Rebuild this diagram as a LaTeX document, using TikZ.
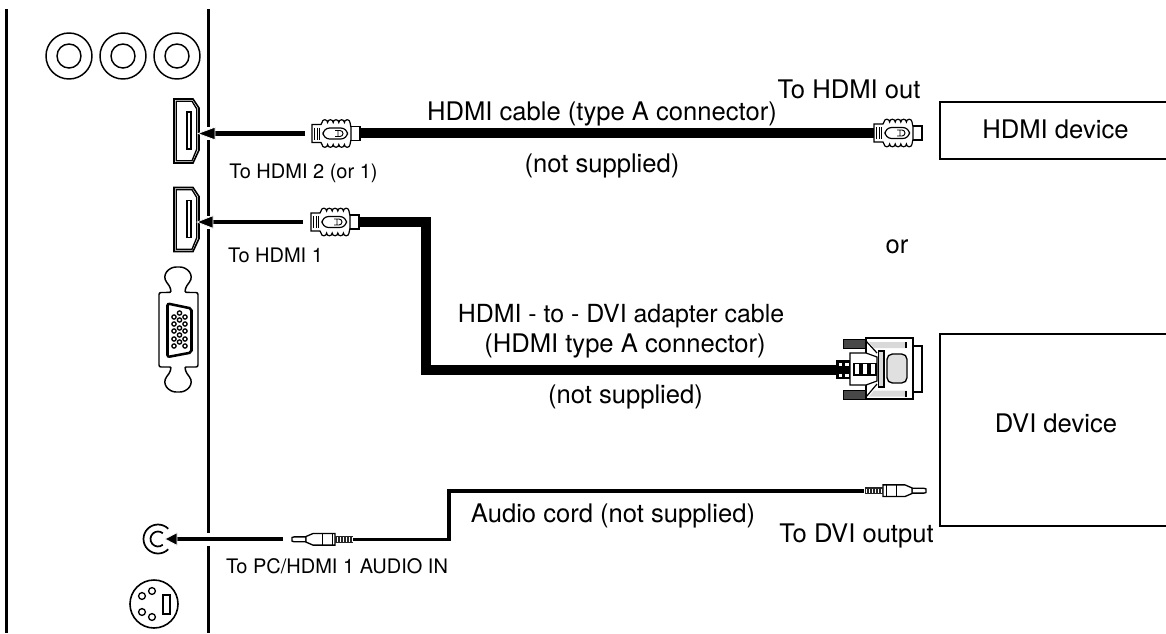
\documentclass[tikz,border=0pt]{standalone}
\usepackage{fontspec}
\setmainfont{TeX Gyre Heros}
\usetikzlibrary{calc}
\newcommand{\bigfont}{\fontsize{19.2}{22}\selectfont}
\newcommand{\adaptfont}{\fontsize{18.7}{22}\selectfont}
\newcommand{\smallfont}{\fontsize{15}{18}\selectfont}
\tikzset{
  rail/.style={line width=2.6pt},
  thin part/.style={line width=0.9pt},
  big label/.style={font=\bigfont,inner sep=0pt,text=black,anchor=base},
  small label/.style={font=\smallfont,inner sep=0pt,text=black,anchor=base},
  box edge/.style={line width=2.2pt},
  pics/hdmiport/.style={code={
    \draw[line width=1.2pt] (0,0) -- (19,0) -- (25,9) -- (25,51) -- (19,64) -- (0,64) -- cycle;
    \draw[line width=1pt] (2.2,2.2) -- (18,2.2) -- (22.8,10) -- (22.8,50) -- (18,61.8) -- (2.2,61.8) -- cycle;
    \draw[line width=0.9pt] (13,13) rectangle (17,50);
  }},
  pics/hdmiplug/.style={code={
    \draw[thin part,fill=white] (38,-7) rectangle (48,7);
    \draw[thin part,fill=white] (0,-9) -- (9,-9) -- (10,-11)
      arc[start angle=180,end angle=360,radius=2.8]
      arc[start angle=180,end angle=360,radius=2.8]
      arc[start angle=180,end angle=360,radius=2.8]
      arc[start angle=180,end angle=360,radius=2.8]
      arc[start angle=180,end angle=360,radius=2.8]
      -- (39,-6) -- (39,6) -- (38,11)
      arc[start angle=0,end angle=180,radius=2.8]
      arc[start angle=0,end angle=180,radius=2.8]
      arc[start angle=0,end angle=180,radius=2.8]
      arc[start angle=0,end angle=180,radius=2.8]
      arc[start angle=0,end angle=180,radius=2.8]
      -- (9,9) -- (0,9) -- cycle;
    \foreach \a in {2.5,5,7.5}{ \draw[line width=0.7pt] (\a,-6) -- (\a,6); }
    \draw[thin part,rounded corners=5pt,fill=white] (11,-5.5) rectangle (35.5,5.5);
    \draw[line width=0.7pt] (26,-3) -- (26,3) (23,-3) -- (28,-3) arc[start angle=-90,end angle=90,radius=3] -- (23,3);
  }},
  pics/minijack/.style={code={
    \draw[line width=1pt,fill=white] (0,-1.8) -- (2,-2.4) -- (14,-2.4) -- (14,2.4) -- (2,2.4) -- (0,1.8) -- cycle;
    \draw[line width=1pt,fill=white] (14,-2.8) -- (21,-5.8) -- (43,-5.8) -- (43,5.8) -- (21,5.8) -- (14,2.8) -- cycle;
    \draw[line width=0.7pt] (30,-5.8) -- (30,5.8) (40,-5.8) -- (40,5.8);
    \fill[black!85] (43,-3.4) rectangle (61,3.4);
    \foreach \k in {45,48,...,60}{ \draw[white,line width=0.4pt] (\k,-2.2) -- (\k,2.2); }
  }},
}
\begin{document}
\begin{tikzpicture}[x=0.75pt,y=-0.75pt]
\useasboundingbox (0,0) rectangle (1166,633);
\coordinate (railLtop) at (6.7,9);
\coordinate (railLbot) at (6.7,633);
\coordinate (railRtop) at (208.5,9);
\coordinate (railRbot) at (208.5,633);
\draw[rail] (railLtop) -- (railLbot);
\draw[rail] (railRtop) -- (railRbot);
% RCA jacks
\foreach \c in {69,123,177}{
  \draw[line width=1.1pt] (\c,56) circle[radius=23];
  \draw[line width=1.1pt] (\c,56) circle[radius=12];
}
% HDMI ports
\pic at (174,99) {hdmiport};
\pic at (174,187.5) {hdmiport};
% VGA
\draw[line width=1.1pt,rounded corners=1.5pt] (159,292.5) -- (168,292.5)
   .. controls (172,292) and (170,287) .. (168,284)
   .. controls (161,275) and (169,267) .. (178,267)
   .. controls (187,267) and (195,275) .. (188,284)
   .. controls (186,287) and (184,292) .. (188,292.5)
   -- (198,292.5) -- (198,367) -- (188,367)
   .. controls (184,367) and (186,372) .. (188,375)
   .. controls (195,384) and (187,392) .. (178,392)
   .. controls (169,392) and (161,384) .. (168,375)
   .. controls (170,372) and (172,367) .. (168,367)
   -- (159,367) -- cycle;
\draw[line width=1.9pt,rounded corners=1.5pt] (167.5,303.5) -- (191.5,308.5) -- (191.5,352.5) -- (167.5,357) -- cycle;
\foreach \x/\y in {174/317,174/324,174/331,174/339,174/346,
                   179.5/313,179.5/320,179.5/328,179.5/335,179.5/342,
                   185/317,185/324,185/331,185/339,185/346}{
  \draw[line width=1pt] (\x,\y) circle[radius=2.1];
}
% stereo jack port
\draw[line width=1.3pt] (158,539) ++(45:14.5) arc[start angle=45,end angle=315,radius=14.5];
\draw[line width=1.3pt] (158,539) ++(50:7.5) arc[start angle=50,end angle=310,radius=7.5];
% mini din
\draw[line width=1.2pt] (154,604) circle[radius=24];
\draw[line width=1pt] (142,596) circle[radius=3.4] (152,591) circle[radius=3.4] (142,612) circle[radius=3.4] (152,617) circle[radius=3.4];
\draw[line width=1.1pt] (163,595) rectangle (170,614);
% cables
\coordinate (cableAstart) at (359,133);
\coordinate (cableAend) at (876,133);
\draw[line width=7.5pt] (cableAstart) -- (cableAend);
\coordinate (cableBstart) at (358,222);
\coordinate (cableBbend1) at (426,222);
\coordinate (cableBbend2) at (426,370);
\coordinate (cableBend) at (838,370);
\draw[line width=7.5pt,line join=miter] (cableBstart) -- (cableBbend1) -- (cableBbend2) -- (cableBend);
\pic at (312,133.5) {hdmiplug};
\pic at (874,133) {hdmiplug};
\pic at (311,222) {hdmiplug};
% arrows
\coordinate (arrAfrom) at (305,133.5);
\coordinate (arrAto) at (198,133.5);
\coordinate (arrBfrom) at (303,222);
\coordinate (arrBto) at (197,222);
\coordinate (arrCfrom) at (283,539);
\coordinate (arrCto) at (165,539);
\foreach \f/\t/\l in {arrAfrom/arrAto/17,arrBfrom/arrBto/16,arrCfrom/arrCto/12}{
  \fill[white] ($(\t -| railRtop)+(-3,-6.5)$) rectangle ($(\t -| railRtop)+(3,6.5)$);
  \draw[line width=3.5pt] (\f) -- ($(\t)+(\l-2,0)$);
  \filldraw[draw=white,line width=0.5pt,fill=black] (\t) -- ($(\t)+(\l,-6.3)$) -- ($(\t)+(\l,6.3)$) -- cycle;
}
% audio cord
\coordinate (audL) at (352,539.3);
\coordinate (audB1) at (449,539.3);
\coordinate (audB2) at (449,491);
\coordinate (audR) at (864,491);
\draw[line width=2.5pt,line join=miter] (audL) -- (audB1) -- (audB2) -- (audR);
\pic at (292,539.3) {minijack};
\pic[transform shape,xscale=-1] at (926,490.7) {minijack};
% DVI connector
\fill[black!72,draw=black,line width=0.7pt] (843,339) rectangle (866,348);
\fill[black!72,draw=black,line width=0.7pt] (843,390) rectangle (866,399);
\draw[thin part,fill=white] (913,346) rectangle (922,392);
\draw[line width=1.1pt,fill=white] (866,338) rectangle (913,399);
\fill[black!15] (869,342) -- (906,342) -- (906,348) -- (874,348) -- cycle;
\fill[black!15] (869,396.5) -- (906,396.5) -- (906,390.5) -- (874,390.5) -- cycle;
\draw[line width=0.8pt] (906,342) -- (906,348) (906,390.5) -- (906,396.5);
\draw[thin part] (866,341) -- (877,353) (866,397) -- (877,384);
\draw[thin part,fill=white] (850,353) -- (866,353) -- (877,357) -- (877,381) -- (866,385) -- (850,385) -- cycle;
\draw[line width=0.8pt,fill=black!15] (878.5,351) rectangle (884,387);
\draw[line width=1pt,rounded corners=4pt,fill=black!12] (887,354) rectangle (907,383);
\draw[line width=0.9pt] (854,363.5) rectangle (860,375) (862,363.5) rectangle (868,375) (870,363.5) rectangle (876,375);
\fill (836,360) rectangle (850,379);
\foreach \y in {362.5,374}{ \fill[white] (838.5,\y) rectangle (842,\y+3); \fill[white] (844.5,\y) rectangle (848.5,\y+3); }
% device boxes
\draw[box edge] (1166,102) -- (940,102) -- (940,159) -- (1166,159);
\draw[box edge] (1166,334) -- (940,334) -- (940,526) -- (1166,526);
% labels
\node[big label] (lblHcable) at (602,120) {HDMI cable (type A connector)};
\node[big label] (lblHout) at (849,98) {To HDMI out};
\node[big label] (lblNs1) at (602,172) {(not supplied)};
\node[big label] (lblHdev) at (1055.5,138) {HDMI device};
\node[big label] (lblOr) at (897,253) {or};
\node[big label,font=\adaptfont] (lblAd1) at (621,322) {HDMI - to - DVI adapter cable};
\node[big label] (lblAd2) at (625,352) {(HDMI type A connector)};
\node[big label] (lblNs2) at (625.5,403) {(not supplied)};
\node[big label] (lblDdev) at (1056,432) {DVI device};
\node[big label] (lblAud) at (613,522) {Audio cord (not supplied)};
\node[big label] (lblDout) at (856.5,542) {To DVI output};
\node[small label] (lblH2) at (303.5,178) {To HDMI 2 (or 1)};
\node[small label] (lblH1) at (275.5,262) {To HDMI 1};
\node[small label] (lblPc) at (337,573) {To PC/HDMI 1 AUDIO IN};
\end{tikzpicture}
\end{document}
